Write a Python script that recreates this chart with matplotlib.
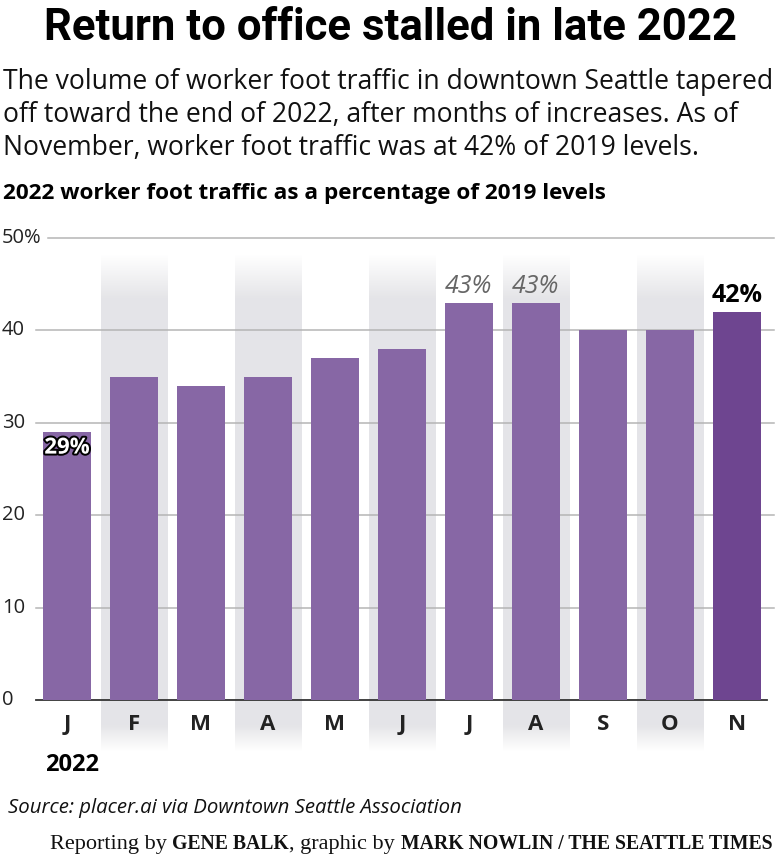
import numpy as np
import matplotlib
matplotlib.use('Agg')
import matplotlib.pyplot as plt
import matplotlib.patheffects as pe

# ── Data ──────────────────────────────────────────────────────────
months = ['J', 'F', 'M', 'A', 'M', 'J', 'J', 'A', 'S', 'O', 'N']
values = [29, 35, 34, 35, 37, 38, 43, 43, 40, 40, 42]
yticks = [0, 10, 20, 30, 40, 50]
ytick_labels = ['0', '10', '20', '30', '40', '50%']

BAR = '#8767a5'
BAR_LAST = '#6e4590'
BAND = np.array([0.898, 0.898, 0.91])

W, H = 780, 858
fig = plt.figure(figsize=(W / 100, H / 100), dpi=100)
fig.patch.set_facecolor('white')

def fx(px):
    return px / W

def fy(py):
    return 1 - py / H

ax = fig.add_axes([fx(33.5), fy(700), fx(770.5) - fx(33.5), fy(238) - fy(700)])
ax.set_xlim(-0.5, len(months) - 0.5)
ax.set_ylim(0, 50)
ax.axis('off')

# alternating shaded columns, fading at top and bottom
ys = np.linspace(-5.6, 48.2, 400)
alpha = np.ones_like(ys)
alpha = np.where(ys > 43.5, 1 - (ys - 43.5) / 4.7, alpha)
alpha = np.where(ys < -2.8, 1 - (-2.8 - ys) / 2.8, alpha)
alpha = np.clip(alpha, 0, 1)
grad = np.ones((len(ys), 1, 3)) * (1 - alpha[:, None, None]) + BAND * alpha[:, None, None]
grad = grad[::-1]
for i in range(1, len(months), 2):
    ax.imshow(grad, extent=[i - 0.5, i + 0.5, ys[0], ys[-1]], aspect='auto',
              zorder=0, clip_on=False, interpolation='bilinear')

# gridlines
for t in yticks[1:]:
    x0 = -0.28 if t == 50 else -0.47
    ax.plot([x0, 10.55], [t, t], color='#b5b5b5', lw=1.1, zorder=1, clip_on=False)
ax.plot([-0.47, 10.45], [0, 0], color='#333333', lw=1.3, zorder=1, clip_on=False)

colors = [BAR] * (len(values) - 1) + [BAR_LAST]
ax.bar(range(len(values)), values, width=0.72, color=colors, zorder=2)

# value labels
ax.text(0, 29 - 0.6, '29%', ha='center', va='top', fontsize=16, fontweight='bold',
        family='Open Sans', color='white', zorder=3,
        path_effects=[pe.withStroke(linewidth=2.8, foreground='black')])
for i in (6, 7):
    ax.text(i, values[i] + 0.4, f'{values[i]}%', ha='center', va='bottom', fontsize=18,
            style='italic', family='Open Sans', color='#666666', zorder=3)
ax.text(10, values[10] + 0.4, '42%', ha='center', va='bottom', fontsize=18,
        fontweight='bold', family='Open Sans', color='black', zorder=3)

# tick labels
for t, lab in zip(yticks, ytick_labels):
    ax.text(fx(2), ax.transData.transform((0, t))[1] / H, lab, transform=fig.transFigure,
            ha='left', va='center', fontsize=14.5, family='Open Sans', color='#222222')
for i, m in enumerate(months):
    ax.text(i, -2.6, m, ha='center', va='center', fontsize=16, fontweight='bold',
            family='Open Sans', color='#222222')
fig.text(fx(72), fy(765), '2022', ha='center', va='center', fontsize=17,
         fontweight='bold', family='Open Sans', color='black')

# ── Titles ───────────────────────────────────────────────────────
fig.text(0.5, fy(28), 'Return to office stalled in late 2022', ha='center', va='center',
         fontsize=31.5, fontweight='bold', family='Roboto', color='black')
sub = ['The volume of worker foot traffic in downtown Seattle tapered',
       'off toward the end of 2022, after months of increases. As of',
       'November, worker foot traffic was at 42% of 2019 levels.']
for k, line in enumerate(sub):
    fig.text(fx(3), fy(82 + 33 * k), line, ha='left', va='center', fontsize=19.1,
             family='Open Sans', color='#111111')
fig.text(fx(3), fy(194), '2022 worker foot traffic as a percentage of 2019 levels',
         ha='left', va='center', fontsize=16.2, fontweight='bold', family='Open Sans',
         color='black')

# ── Footer ───────────────────────────────────────────────────────
fig.text(fx(8), fy(808), 'Source: placer.ai via Downtown Seattle Association', ha='left',
         va='center', fontsize=14.7, style='italic', family='Open Sans', color='#111111')

parts = [('Reporting by ', 'normal', 16), ('GENE BALK', 'bold', 14.2),
         (', graphic by ', 'normal', 16), ('MARK NOWLIN / THE SEATTLE TIMES', 'bold', 14.2)]
fig.canvas.draw()
r = fig.canvas.get_renderer()
x = fx(50)
for txt, wt, sz in parts:
    t = fig.text(x, fy(849), txt, ha='left', va='baseline', fontsize=sz, fontweight=wt,
                 family='Liberation Serif', color='#111111')
    x += t.get_window_extent(r).width / W

fig.savefig('out.png', dpi=100)
